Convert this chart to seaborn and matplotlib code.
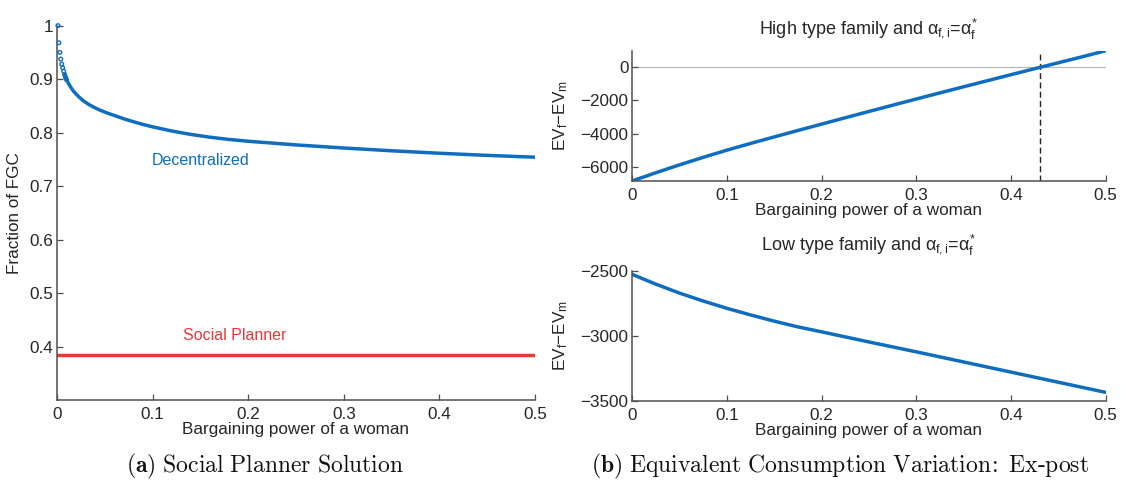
import numpy as np
import pandas as pd
import matplotlib
matplotlib.use("Agg")
import matplotlib.pyplot as plt
import seaborn as sns

# ---- data -------------------------------------------------------------
# Panel (a): fraction of FGC vs. bargaining power of a woman
alpha_dec = [0.001, 0.002, 0.003, 0.004, 0.005, 0.006, 0.007, 0.008, 0.009,
             0.010, 0.012, 0.014, 0.017, 0.020, 0.024, 0.028, 0.033, 0.039,
             0.045, 0.052, 0.060, 0.070, 0.080, 0.090, 0.100, 0.120, 0.140,
             0.160, 0.180, 0.200, 0.250, 0.300, 0.350, 0.400, 0.450, 0.500]
fgc_dec = [1.000, 0.968, 0.950, 0.9375, 0.928, 0.921, 0.915, 0.9085, 0.9035,
           0.899, 0.892, 0.886, 0.878, 0.872, 0.865, 0.859, 0.853, 0.847,
           0.842, 0.837, 0.832, 0.8258, 0.8203, 0.8153, 0.8108, 0.8030,
           0.7966, 0.7914, 0.7872, 0.7838, 0.7770, 0.7712, 0.7660, 0.7614,
           0.7574, 0.7540]
alpha_sp = [0.0, 0.5]
fgc_sp = [0.385, 0.385]

# Panel (b), top: high type family
alpha_high = [0.0, 0.025, 0.05, 0.075, 0.1, 0.125, 0.15, 0.175, 0.2, 0.225,
              0.25, 0.275, 0.3, 0.325, 0.35, 0.375, 0.4, 0.425, 0.45, 0.475,
              0.5]
ev_high = [-6813, -6320, -5850, -5400, -4972, -4570, -4180, -3795, -3415,
           -3035, -2658, -2285, -1915, -1548, -1183, -820, -460, -102, 253,
           606, 974]
alpha_star = 0.431

# Panel (b), bottom: low type family
alpha_low = [0.0, 0.025, 0.05, 0.075, 0.1, 0.125, 0.15, 0.175, 0.2, 0.225,
             0.25, 0.275, 0.3, 0.325, 0.35, 0.375, 0.4, 0.425, 0.45, 0.475,
             0.5]
ev_low = [-2528, -2603, -2672, -2733, -2789, -2840, -2888, -2932, -2970,
          -3009, -3048, -3086, -3124, -3163, -3202, -3241, -3280, -3319,
          -3358, -3397, -3436]

x_ticks = [0, 0.1, 0.2, 0.3, 0.4, 0.5]
x_ticklabels = ["0", "0.1", "0.2", "0.3", "0.4", "0.5"]

# ---- style ------------------------------------------------------------
sns.set_theme(style="white")
plt.rcParams["font.family"] = ["Liberation Sans", "DejaVu Sans"]
plt.rcParams["mathtext.fontset"] = "custom"
plt.rcParams["mathtext.rm"] = "Liberation Sans"
plt.rcParams["mathtext.it"] = "Liberation Sans"
plt.rcParams["mathtext.bf"] = "Liberation Sans:bold"

BLUE = "#0F6DBF"
RED = "#E8383A"
AXC = "#505050"
TXT = "#262626"
FS = 12.3
LW = 2.5

fig = plt.figure(figsize=(11.26, 4.84), dpi=100)
ax_a = fig.add_axes([0.0506, 0.1736, 0.4245, 0.7734])
ax_h = fig.add_axes([0.5613, 0.6260, 0.4207, 0.2693])
ax_l = fig.add_axes([0.5613, 0.1721, 0.4207, 0.2686])


def style_axes(ax):
    for s in ("top", "right"):
        ax.spines[s].set_visible(False)
    for s in ("left", "bottom"):
        ax.spines[s].set_color(AXC)
        ax.spines[s].set_linewidth(1.1)
    ax.tick_params(direction="in", length=4, width=0.9, color=AXC,
                   labelsize=FS, labelcolor=TXT, left=True, bottom=True)
    ax.tick_params(axis="y", pad=2.5)
    ax.tick_params(axis="x", pad=5)
    ax.set_xlim(0, 0.5)
    ax.set_xticks(x_ticks)
    ax.set_xticklabels(x_ticklabels)
    ax.set_xlabel("Bargaining power of a woman", fontsize=FS,
                  color=TXT, labelpad=0)


# ---- panel (a) --------------------------------------------------------
df_dec = pd.DataFrame({"alpha": alpha_dec, "fgc": fgc_dec})
early = df_dec[df_dec["alpha"] <= 0.010]
later = df_dec[df_dec["alpha"] >= 0.008]
sns.lineplot(data=later, x="alpha", y="fgc", ax=ax_a, color=BLUE, lw=LW)
sns.scatterplot(data=early, x="alpha", y="fgc", ax=ax_a, s=7,
                facecolor="none", edgecolor=BLUE, linewidth=1.0, zorder=3,
                clip_on=False)
df_sp = pd.DataFrame({"alpha": alpha_sp, "fgc": fgc_sp})
sns.lineplot(data=df_sp, x="alpha", y="fgc", ax=ax_a, color=RED, lw=LW)
style_axes(ax_a)
ax_a.set_ylim(0.3, 1.0)
ax_a.set_yticks([0.4, 0.5, 0.6, 0.7, 0.8, 0.9, 1.0])
ax_a.set_yticklabels(["0.4", "0.5", "0.6", "0.7", "0.8", "0.9", "1"])
ax_a.set_ylabel("Fraction of FGC", fontsize=FS, color=TXT, va="center")
ax_a.yaxis.set_label_coords(-0.088, 0.5)
ax_a.text(0.15, 0.748, "Decentralized", color=BLUE, fontsize=11.5,
          ha="center", va="center")
ax_a.text(0.186, 0.42, "Social Planner", color=RED, fontsize=11.5,
          ha="center", va="center")

# ---- panel (b), top ----------------------------------------------------
ev_label = "EV$_{\\mathrm{f}}$\u2212EV$_{\\mathrm{m}}$"
df_h = pd.DataFrame({"alpha": alpha_high, "ev": ev_high})
ax_h.axhline(0, color="#b4b4b4", lw=0.8, zorder=0)
ax_h.axvline(alpha_star, color="#222222", lw=1.0, ls=(0, (4.3, 2.4)))
sns.lineplot(data=df_h, x="alpha", y="ev", ax=ax_h, color=BLUE, lw=LW)
style_axes(ax_h)
ax_h.set_ylim(-6813, 974)
ax_h.set_yticks([-6000, -4000, -2000, 0])
ax_h.set_yticklabels(["\u22126000", "\u22124000", "\u22122000", "0"])
ax_h.set_ylabel(ev_label, fontsize=FS, color=TXT, va="center")
ax_h.yaxis.set_label_coords(-0.151, 0.5)
ax_h.text(0.5, 1.17, "High type family and $\\alpha_{\\mathrm{f,i}}$=$\\alpha^{*}_{\\mathrm{f}}$",
          transform=ax_h.transAxes, fontsize=13, color=TXT,
          ha="center", va="center")

# ---- panel (b), bottom -------------------------------------------------
df_l = pd.DataFrame({"alpha": alpha_low, "ev": ev_low})
sns.lineplot(data=df_l, x="alpha", y="ev", ax=ax_l, color=BLUE, lw=LW)
style_axes(ax_l)
ax_l.set_ylim(-3500, -2500)
ax_l.set_yticks([-3500, -3000, -2500])
ax_l.set_yticklabels(["\u22123500", "\u22123000", "\u22122500"])
ax_l.set_ylabel(ev_label, fontsize=FS, color=TXT, va="center")
ax_l.yaxis.set_label_coords(-0.151, 0.5)
ax_l.text(0.5, 1.20, "Low type family and $\\alpha_{\\mathrm{f,i}}$=$\\alpha^{*}_{\\mathrm{f}}$",
          transform=ax_l.transAxes, fontsize=13, color=TXT,
          ha="center", va="center")

# ---- captions ------------------------------------------------------------
fig.text(0.2356, 0.036, r"$\mathbf{(a)}\ \mathrm{Social\ Planner\ Solution}$",
         fontsize=17, ha="center", va="center", math_fontfamily="cm",
         color="#111111")
fig.text(0.746, 0.036, r"$\mathbf{(b)}\ \mathrm{Equivalent\ Consumption\ Variation\!:\ Ex\text{-}post}$",
         fontsize=17, ha="center", va="center", math_fontfamily="cm",
         color="#111111")

fig.savefig("out.png", dpi=100, facecolor="white")
